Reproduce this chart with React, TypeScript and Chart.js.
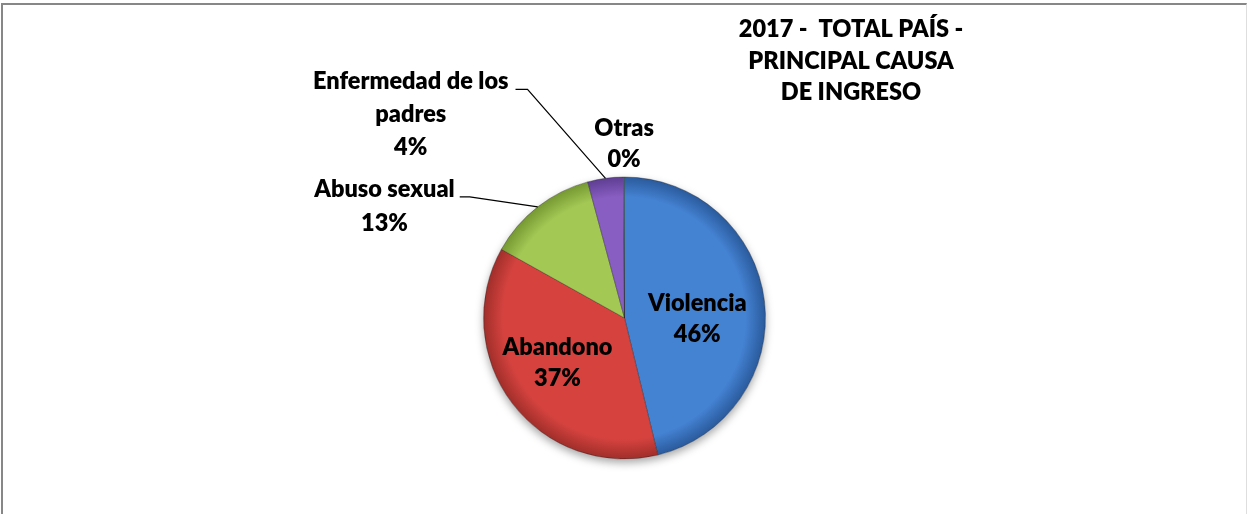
import { useEffect, useRef } from "react";
import { Chart, registerables } from "chart.js";

Chart.register(...registerables);

const CATEGORIES = ["Violencia", "Abandono", "Abuso sexual", "Enfermedad de los padres", "Otras"];
const VALUES = [46.2, 36.9, 12.7, 4.1, 0.1];
const TITLE_LINES = ["2017 -  TOTAL PAÍS -", "PRINCIPAL CAUSA", "DE INGRESO"];
const BASE_COLORS = ["#4482d2", "#d6433f", "#a3c854", "#895ec3", "#4bacc6"];
const EDGE_COLORS = ["#2a5a9c", "#a02e2a", "#769832", "#5e3e92", "#31859c"];

const PIE_RADIUS = 141;
const FONT = "800 23.5px Lato";
const CAP = 16;
const WRAP_WIDTH = 240;

type Placement =
  | { mode: "inside"; r: number; dx: number; dy: number; lh: number }
  | { mode: "outside"; ex: number; ey: number; h: number; gap: number; lh: number }
  | { mode: "above"; gap: number; lh: number };

const PLACEMENTS: Placement[] = [
  { mode: "inside", r: 0.52, dx: 0, dy: 9, lh: 31.5 },
  { mode: "inside", r: 0.57, dx: -3, dy: -4, lh: 31.5 },
  { mode: "outside", ex: -68, ey: -10, h: 10, gap: 5, lh: 34 },
  { mode: "outside", ex: -78, ey: -89, h: 12, gap: 7, lh: 33 },
  { mode: "above", gap: 10, lh: 31.5 },
];

function wrap(ctx: CanvasRenderingContext2D, text: string, maxW: number): string[] {
  const words = text.split(" ");
  const lines: string[] = [];
  let cur = "";
  for (const w of words) {
    const t = cur ? cur + " " + w : w;
    if (cur && ctx.measureText(t).width > maxW) {
      lines.push(cur);
      cur = w;
    } else cur = t;
  }
  if (cur) lines.push(cur);
  return lines;
}

const labelPlugin = {
  id: "pieLabels",
  beforeDatasetsDraw(chart: any) {
    const arc = chart.getDatasetMeta(0).data[0];
    if (!arc) return;
    const { x, y, outerRadius } = arc.getProps(["x", "y", "outerRadius"], true);
    const ctx = chart.ctx as CanvasRenderingContext2D;
    ctx.save();
    ctx.beginPath();
    ctx.arc(x, y, outerRadius, 0, Math.PI * 2);
    ctx.fillStyle = "#ffffff";
    ctx.shadowColor = "rgba(0,0,0,0.35)";
    ctx.shadowBlur = 8;
    ctx.shadowOffsetY = 4;
    ctx.fill();
    ctx.restore();
  },
  afterDatasetsDraw(chart: any) {
    const ctx = chart.ctx as CanvasRenderingContext2D;
    const meta = chart.getDatasetMeta(0);
    const data: number[] = chart.data.datasets[0].data;
    const total = data.reduce((a, b) => a + b, 0);
    ctx.save();
    ctx.font = FONT;
    ctx.fillStyle = "#000";
    ctx.strokeStyle = "#000";
    ctx.lineWidth = 1.2;
    ctx.textBaseline = "alphabetic";
    ctx.textAlign = "center";
    meta.data.forEach((el: any, i: number) => {
      const { x, y, startAngle, endAngle, outerRadius } = el.getProps(
        ["x", "y", "startAngle", "endAngle", "outerRadius"],
        true
      );
      const a = (startAngle + endAngle) / 2;
      const lines = [...wrap(ctx, chart.data.labels[i], WRAP_WIDTH), Math.round((data[i] / total) * 100) + "%"];
      const p = PLACEMENTS[i];
      const n = lines.length;
      if (p.mode === "inside") {
        const cx = x + Math.cos(a) * outerRadius * p.r + p.dx;
        const cy = y + Math.sin(a) * outerRadius * p.r + p.dy;
        const b0 = cy - ((n - 1) * p.lh) / 2 + CAP / 2;
        lines.forEach((t, k) => ctx.fillText(t, cx, b0 + k * p.lh));
      } else if (p.mode === "outside") {
        const ex0 = x + Math.cos(a) * outerRadius;
        const ey0 = y + Math.sin(a) * outerRadius;
        const bx = ex0 + p.ex;
        const by = ey0 + p.ey;
        const endX = bx - p.h;
        ctx.beginPath();
        ctx.moveTo(ex0, ey0);
        ctx.lineTo(bx, by);
        ctx.lineTo(endX, by);
        ctx.stroke();
        const w = Math.max(...lines.map((t) => ctx.measureText(t).width));
        const cx = endX - p.gap - w / 2;
        lines.forEach((t, k) => ctx.fillText(t, cx, by + k * p.lh));
      } else {
        const ex0 = x + Math.cos(a) * outerRadius;
        const ey0 = y + Math.sin(a) * outerRadius;
        const last = ey0 - p.gap;
        lines.forEach((t, k) => ctx.fillText(t, ex0, last - (n - 1 - k) * p.lh));
      }
    });
    ctx.restore();
  },
  afterDraw(chart: any) {
    const ctx = chart.ctx as CanvasRenderingContext2D;
    ctx.save();
    ctx.font = FONT;
    ctx.fillStyle = "#000";
    ctx.textAlign = "center";
    ctx.textBaseline = "alphabetic";
    const cx = chart.width / 2 + 226.5;
    TITLE_LINES.forEach((t, k) => ctx.fillText(t, cx, 32 + k * 31.5));
    ctx.restore();
  },
};

export default function App() {
  const ref = useRef<HTMLCanvasElement | null>(null);
  useEffect(() => {
    document.body.style.margin = "0";
    const canvas = ref.current;
    if (!canvas) return;
    const chart = new Chart(canvas, {
      type: "pie",
      data: {
        labels: CATEGORIES,
        datasets: [
          {
            data: VALUES,
            radius: PIE_RADIUS,
            borderWidth: 1,
            borderColor: "rgba(30,30,30,0.35)",
            backgroundColor: (c: any) => {
              const i = c.dataIndex;
              const area = c.chart.chartArea;
              if (!area) return BASE_COLORS[i];
              const cx = (area.left + area.right) / 2;
              const cy = (area.top + area.bottom) / 2;
              const g = c.chart.ctx.createRadialGradient(cx, cy, 0, cx, cy, PIE_RADIUS);
              g.addColorStop(0, BASE_COLORS[i]);
              g.addColorStop(0.86, BASE_COLORS[i]);
              g.addColorStop(1, EDGE_COLORS[i]);
              return g;
            },
          } as any,
        ],
      },
      options: {
        responsive: false,
        animation: false,
        events: [],
        layout: { padding: { top: 172, bottom: 55, left: 0, right: 0 } },
        plugins: {
          legend: { display: false },
          title: { display: false },
          tooltip: { enabled: false },
        },
      },
      plugins: [labelPlugin],
    });
    return () => chart.destroy();
  }, []);

  return (
    <div style={{ position: "relative", width: 1247, height: 514, overflow: "hidden", background: "#fff" }}>
      <div
        style={{
          position: "absolute",
          left: 1,
          top: 3,
          width: 1243,
          height: 530,
          borderTop: "2px solid #878787",
          borderLeft: "2px solid #878787",
          borderRight: "1px solid #dedede",
        }}
      >
        <canvas ref={ref} width={1243} height={509} style={{ display: "block" }} />
      </div>
    </div>
  );
}
